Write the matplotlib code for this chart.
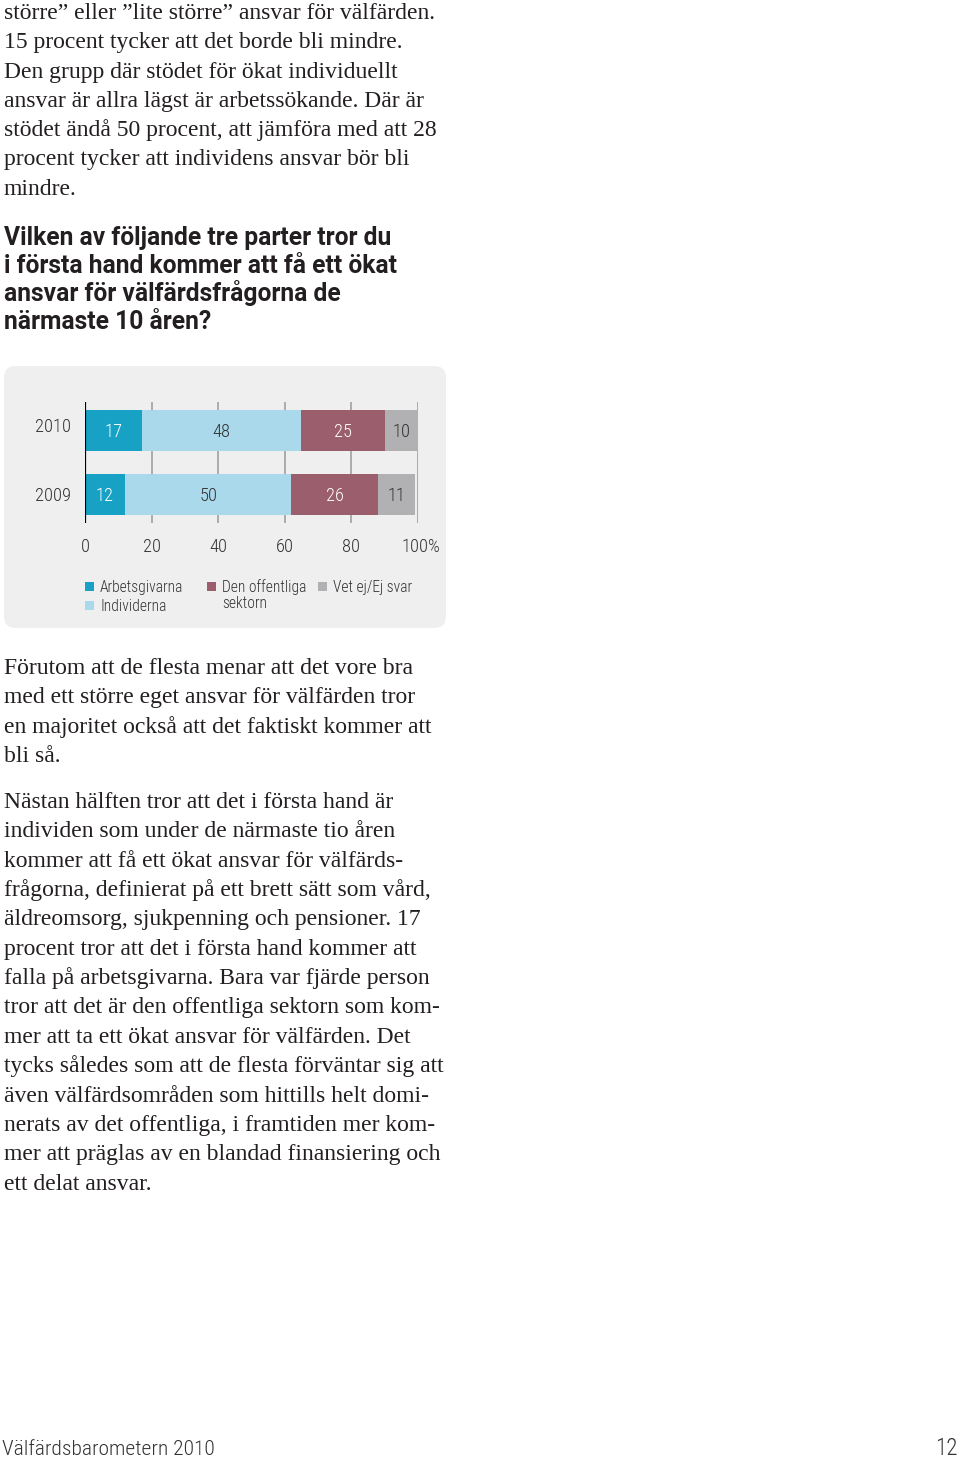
import matplotlib
matplotlib.use("Agg")
import os
import matplotlib.pyplot as plt
from matplotlib.patches import FancyBboxPatch, Rectangle
from matplotlib import font_manager
from matplotlib.font_manager import FontProperties

# ---------------- data ----------------
years = ["2010", "2009"]
legend_labels = ["Arbetsgivarna", "Individerna", "Den offentliga\nsektorn", "Vet ej/Ej svar"]
arbetsgivarna = [17, 12]
individerna = [48, 50]
offentliga = [25, 26]
vet_ej = [10, 11]
x_ticks = [0, 20, 40, 60, 80, 100]
x_tick_labels = ["0", "20", "40", "60", "80", "100%"]

colors = ["#17a2c5", "#a9d9ea", "#9a5e6d", "#b1b1b3"]
value_colors = ["white", "#333333", "white", "#333333"]

para1 = [
    "större” eller ”lite större” ansvar för välfärden.",
    "15 procent tycker att det borde bli mindre.",
    "Den grupp där stödet för ökat individuellt",
    "ansvar är allra lägst är arbetssökande. Där är",
    "stödet ändå 50 procent, att jämföra med att 28",
    "procent tycker att individens ansvar bör bli",
    "mindre.",
]
heading = [
    "Vilken av följande tre parter tror du",
    "i första hand kommer att få ett ökat",
    "ansvar för välfärdsfrågorna de",
    "närmaste 10 åren?",
]
para2 = [
    "Förutom att de flesta menar att det vore bra",
    "med ett större eget ansvar för välfärden tror",
    "en majoritet också att det faktiskt kommer att",
    "bli så.",
]
para3 = [
    "Nästan hälften tror att det i första hand är",
    "individen som under de närmaste tio åren",
    "kommer att få ett ökat ansvar för välfärds-",
    "frågorna, definierat på ett brett sätt som vård,",
    "äldreomsorg, sjukpenning och pensioner. 17",
    "procent tror att det i första hand kommer att",
    "falla på arbetsgivarna. Bara var fjärde person",
    "tror att det är den offentliga sektorn som kom-",
    "mer att ta ett ökat ansvar för välfärden. Det",
    "tycks således som att de flesta förväntar sig att",
    "även välfärdsområden som hittills helt domi-",
    "nerats av det offentliga, i framtiden mer kom-",
    "mer att präglas av en blandad finansiering och",
    "ett delat ansvar.",
]
footer_left = "Välfärdsbarometern 2010"
footer_right = "12"

# ---------------- fonts ----------------
sys_fonts = [f for f in font_manager.findSystemFonts()
             if "italic" not in os.path.basename(f).lower()
             and "oblique" not in os.path.basename(f).lower()]
cond_file = None
for pat in ["LiberationSansNarrow-Regular", "RobotoCondensed-Light.", "RobotoCondensed-Regular.",
            "RobotoCondensed-Light", "RobotoCondensed-Regular",
            "OpenSans_Condensed-Regular", "DejaVuSansCondensed."]:
    hits = [f for f in sys_fonts if os.path.basename(f).startswith(pat)]
    if hits:
        cond_file = sorted(hits, key=len)[0]
        break

def cfont(px):
    if cond_file:
        return FontProperties(fname=cond_file, size=px * 0.72)
    return FontProperties(family="Roboto", weight="light", size=px * 0.86 * 0.72)

serif = "Liberation Serif"
txtc = "#231f20"
gray_txt = "#333333"

W, H = 960, 1459
fig = plt.figure(figsize=(W / 100, H / 100), dpi=100)
fig.patch.set_facecolor("white")

bg = fig.add_axes([0, 0, 1, 1])
bg.set_xlim(0, W)
bg.set_ylim(H, 0)
bg.axis("off")

PX = 0.72  # pt per px

def lines(block, x, y0, step, **kw):
    for i, t in enumerate(block):
        bg.text(x, y0 + i * step, t, va="baseline", ha="left", **kw)

body_kw = dict(family=serif, fontsize=23.6 * PX, color=txtc)
lines(para1, 4, 19, 29.3, **body_kw)
lines(heading, 4, 245, 28, family="Roboto", fontweight="bold", fontsize=24.6 * PX, color=txtc)
lines(para2, 4, 674, 29.4, **body_kw)
lines(para3, 4, 808, 29.35, **body_kw)

bg.text(2, 1455, footer_left, fontproperties=cfont(21.5), color=gray_txt,
        va="baseline", ha="left")
bg.text(958, 1455, footer_right, fontproperties=cfont(23), color=gray_txt,
        va="baseline", ha="right")

# panel
panel = FancyBboxPatch((4 + 12, 366 + 12), 442 - 24, 262 - 24,
                       boxstyle="round,pad=12", fc="#efefef", ec="none", zorder=0)
bg.add_patch(panel)

# legend
leg_pos = [(85, 582), (85, 601), (207, 582), (318, 582)]
for (x, y), c, lab in zip(leg_pos, colors, legend_labels):
    bg.add_patch(Rectangle((x, y), 9, 9, fc=c, ec="none", zorder=2))
    for k, part in enumerate(lab.split("\n")):
        bg.text(x + 15, y + 10 + 16 * k, part, fontproperties=cfont(15.5),
                color=gray_txt, va="baseline", ha="left", zorder=3)

# ---------------- chart ----------------
x0, x1 = 85, 418
ytop, ybot = 402, 523
ax = fig.add_axes([x0 / W, 1 - ybot / H, (x1 - x0) / W, (ybot - ytop) / H])
ax.set_facecolor("none")
ax.set_xlim(0, 100)
ax.set_ylim(-0.445, 1.445)
for s in ax.spines.values():
    s.set_visible(False)
ax.set_xticks([])
ax.set_yticks([])

for t in x_ticks[1:]:
    ax.axvline(t, color="#9a9a9a", lw=1.1, zorder=1)
ax.axvline(0, color="black", lw=1.6, zorder=4)

ypos = [1, 0]
series = [arbetsgivarna, individerna, offentliga, vet_ej]
for i, yr in enumerate(years):
    left = 0
    for si, ser in enumerate(series):
        v = ser[i]
        ax.barh(ypos[i], v, left=left, height=0.64, color=colors[si], zorder=2, linewidth=0)
        ax.text(left + v / 2, ypos[i] - 0.02, str(v), ha="center", va="center",
                fontproperties=cfont(18.5), color=value_colors[si], zorder=5)
        left += v
    ax.text(-4.2, ypos[i] + (0.05 if i == 0 else -0.02), yr, ha="right", va="center",
            fontproperties=cfont(18.5), color=gray_txt)

for t, lab in zip(x_ticks, x_tick_labels):
    ax.text(t + (1.0 if lab.endswith("%") else 0), -0.445 - 23.5 / 64, lab,
            ha="center", va="center", fontproperties=cfont(18.5), color=gray_txt)

fig.savefig("out.png", dpi=100)
